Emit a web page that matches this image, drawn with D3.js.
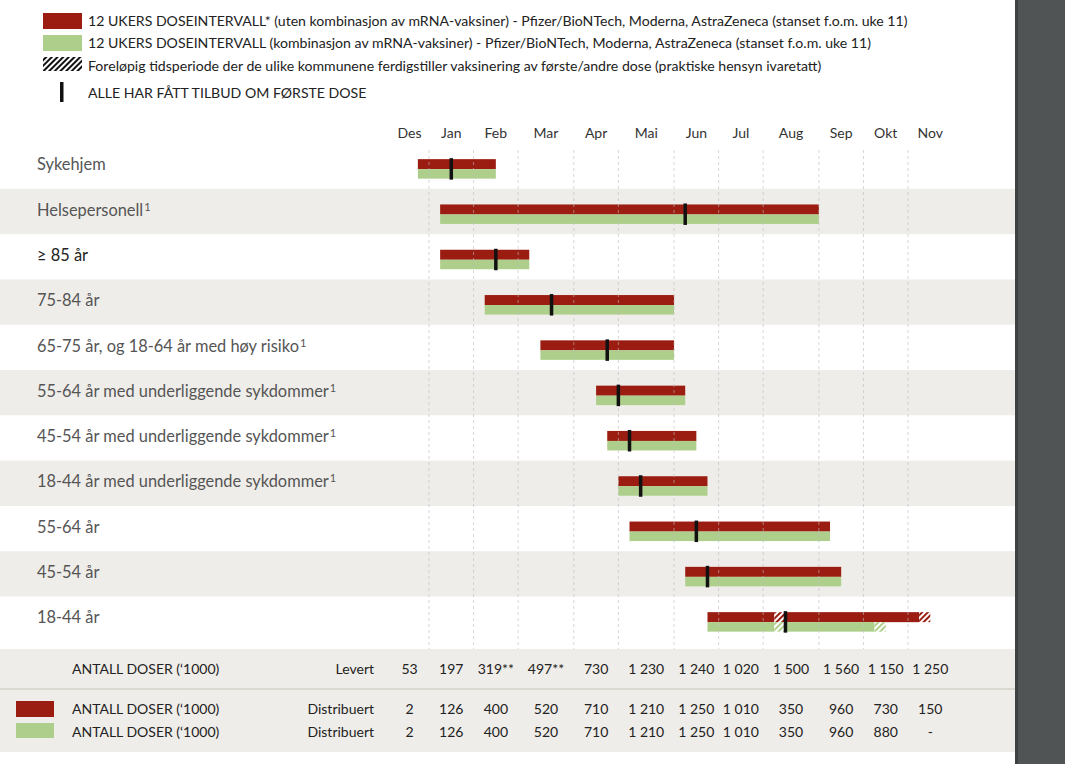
<!DOCTYPE html>
<html><head><meta charset="utf-8">
<script src="https://cdn.jsdelivr.net/npm/d3@7"></script>
<style>
html,body{margin:0;padding:0;background:#fff;}
svg{display:block;font-family:Lato, "Noto Sans", sans-serif;}
</style></head>
<body>
<svg id="chart" width="1065" height="764"></svg>
<script>
// ---- DATA (time unit: weeks from 1 January 2021) ----
const months = ["Des","Jan","Feb","Mar","Apr","Mai","Jun","Jul","Aug","Sep","Okt","Nov"];
const monthStartWeek = [-3.5,0,4,8,13,17,22,26,30,35,39,43];
const monthEndWeek   = [0,4,8,13,17,22,26,30,35,39,43,47];

const rowLabels = ["Sykehjem","Helsepersonell","≥ 85 år","75-84 år",
  "65-75 år, og 18-64 år med høy risiko","55-64 år med underliggende sykdommer",
  "45-54 år med underliggende sykdommer","18-44 år med underliggende sykdommer",
  "55-64 år","45-54 år","18-44 år"];
const rowFootnote = ["","1","","","1","1","1","1","","",""];
// solid segments per row [start, end]
const redBars = [[[-1,6]],[[1,35]],[[1,9]],[[5,22]],[[10,22]],[[15,23]],[[16,24]],[[17,25]],[[18,36]],[[23,37]],[[25,31],[32,44]]];
const greenBars = [[[-1,6]],[[1,35]],[[1,9]],[[5,22]],[[10,22]],[[15,23]],[[16,24]],[[17,25]],[[18,36]],[[23,37]],[[25,31],[32,40]]];
// provisional (hatched) segments: [rowIndex, start, end]
const redHatch = [[10,31,32],[10,44,45]];
const greenHatch = [[10,31,32],[10,40,41]];
// "Alle har fått tilbud om første dose"
const firstDose = [2,23,6,11,16,17,18,19,24,25,32];

const levert    = ["53","197","319**","497**","730","1 230","1 240","1 020","1 500","1 560","1 150","1 250"];
const distRed   = ["2","126","400","520","710","1 210","1 250","1 010","350","960","730","150"];
const distGreen = ["2","126","400","520","710","1 210","1 250","1 010","350","960","880","-"];

const legendItems = [
  "12 UKERS DOSEINTERVALL* (uten kombinasjon av mRNA-vaksiner) - Pfizer/BioNTech, Moderna, AstraZeneca (stanset f.o.m. uke 11)",
  "12 UKERS DOSEINTERVALL (kombinasjon av mRNA-vaksiner) - Pfizer/BioNTech, Moderna, AstraZeneca (stanset f.o.m. uke 11)",
  "Foreløpig tidsperiode der de ulike kommunene ferdigstiller vaksinering av første/andre dose (praktiske hensyn ivaretatt)",
  "ALLE HAR FÅTT TILBUD OM FØRSTE DOSE"];
const tableLabel = "ANTALL DOSER (\u20181000)";

// ---- STYLE ----
const RED = "#9b1d12", GREEN = "#aecf8c", BAND = "#efede9";
const svg = d3.select("#chart");
const W = 1065, H = 764;

const x = d3.scaleLinear().domain([0,43]).range([429,908]);
const rowStep = 45.3, rowTop = 143.5;
const y = d3.scaleBand().domain(d3.range(rowLabels.length))
  .range([rowTop, rowTop + rowStep*rowLabels.length]).padding(0);
const cy = i => y(i) + y.bandwidth()/2;

// patterns
const defs = svg.append("defs");
function hatch(id, color, bg){
  const p = defs.append("pattern").attr("id",id).attr("patternUnits","userSpaceOnUse")
    .attr("width",4).attr("height",4).attr("patternTransform","rotate(45)");
  p.append("rect").attr("width",4).attr("height",4).attr("fill",bg);
  p.append("rect").attr("width",2).attr("height",4).attr("fill",color);
}
hatch("hRed", RED, "#fff");
hatch("hGreen", GREEN, "#fff");
hatch("hBlack", "#111", "#fff");

// background
svg.append("rect").attr("width",W).attr("height",H).attr("fill","#fff");
svg.selectAll("rect.band").data(d3.range(rowLabels.length).filter(i=>i%2===1))
  .join("rect").attr("class","band")
  .attr("x",0).attr("width",1015).attr("y",d=>y(d)).attr("height",y.bandwidth()).attr("fill",BAND);

// table backgrounds
const tTop = 649;
svg.append("rect").attr("x",0).attr("y",tTop).attr("width",1015).attr("height",39).attr("fill",BAND);
svg.append("rect").attr("x",0).attr("y",688).attr("width",1015).attr("height",2).attr("fill","#dbd8d2");
svg.append("rect").attr("x",0).attr("y",690).attr("width",1015).attr("height",62).attr("fill",BAND);

// right dark panel
svg.append("rect").attr("x",1015).attr("y",0).attr("width",50).attr("height",H).attr("fill","#505454");
svg.append("rect").attr("x",1015).attr("y",0).attr("width",3).attr("height",H).attr("fill","#3e4242");

// legend
const lg = svg.append("g");
const legY = [21,43,66,93];
lg.append("rect").attr("x",43).attr("y",13).attr("width",39).attr("height",16).attr("fill",RED);
lg.append("rect").attr("x",43).attr("y",35).attr("width",39).attr("height",16).attr("fill",GREEN);
lg.append("rect").attr("x",43).attr("y",57).attr("width",39).attr("height",14).attr("fill","url(#hBlack)");
lg.append("rect").attr("x",60).attr("y",82).attr("width",3.5).attr("height",20).attr("fill","#111");
lg.selectAll("text").data(legendItems).join("text")
  .attr("x",88).attr("y",(d,i)=>legY[i]).attr("dy","0.35em")
  .attr("font-size",14.1).attr("fill","#222").text(d=>d);

// month labels
const mc = i => x((monthStartWeek[i]+monthEndWeek[i])/2);
svg.selectAll("text.month").data(months).join("text").attr("class","month")
  .attr("x",(d,i)=>mc(i)).attr("y",133).attr("dy","0.35em").attr("text-anchor","middle")
  .attr("font-size",14).attr("fill","#333").text(d=>d);

// row labels
const rl = svg.selectAll("text.row").data(rowLabels).join("text").attr("class","row")
  .attr("x",37).attr("y",(d,i)=>cy(i)-1.5).attr("dy","0.35em")
  .attr("font-size",16.4).attr("fill",(d,i)=>i===2?"#222":"#555");
rl.append("tspan").text(d=>d);
rl.append("tspan").attr("font-size",11).attr("dx",1).attr("dy",-5).text((d,i)=>rowFootnote[i]);

// bars
const redH = 10, greenH = 9.5;
const barTop = i => cy(i) + 3 - redH;
const segs = (arr) => arr.flatMap((s,i)=>s.map(v=>({i, s:v[0], e:v[1]})));
svg.selectAll("rect.red").data(segs(redBars)).join("rect").attr("class","red")
  .attr("x",d=>x(d.s)).attr("width",d=>x(d.e)-x(d.s))
  .attr("y",d=>barTop(d.i)).attr("height",redH).attr("fill",RED);
svg.selectAll("rect.green").data(segs(greenBars)).join("rect").attr("class","green")
  .attr("x",d=>x(d.s)).attr("width",d=>x(d.e)-x(d.s))
  .attr("y",d=>barTop(d.i)+redH).attr("height",greenH).attr("fill",GREEN);
svg.selectAll("rect.rh").data(redHatch).join("rect").attr("class","rh")
  .attr("x",d=>x(d[1])).attr("width",d=>x(d[2])-x(d[1]))
  .attr("y",d=>barTop(d[0])).attr("height",redH).attr("fill","url(#hRed)");
svg.selectAll("rect.gh").data(greenHatch).join("rect").attr("class","gh")
  .attr("x",d=>x(d[1])).attr("width",d=>x(d[2])-x(d[1]))
  .attr("y",d=>barTop(d[0])+redH).attr("height",greenH).attr("fill","url(#hGreen)");

// gridlines (month boundaries)
svg.selectAll("line.grid").data(monthStartWeek.slice(1)).join("line").attr("class","grid")
  .attr("x1",d=>x(d)).attr("x2",d=>x(d)).attr("y1",150).attr("y2",tTop)
  .attr("stroke","#bdbdbd").attr("stroke-opacity",0.6).attr("stroke-dasharray","3,3");

// first dose markers
svg.selectAll("rect.fd").data(firstDose).join("rect").attr("class","fd")
  .attr("x",d=>x(d)-1.75).attr("width",3.5)
  .attr("y",(d,i)=>barTop(i)-1).attr("height",redH+greenH+2).attr("fill","#111");

// table
const tfs = 14;
svg.append("text").attr("x",72).attr("y",669).attr("dy","0.35em").attr("font-size",tfs).attr("fill","#222").text(tableLabel);
svg.append("text").attr("x",374).attr("y",669).attr("dy","0.35em").attr("text-anchor","end").attr("font-size",tfs).attr("fill","#222").text("Levert");
svg.append("rect").attr("x",16).attr("y",701).attr("width",38).attr("height",16).attr("fill",RED);
svg.append("rect").attr("x",16).attr("y",723).attr("width",38).attr("height",15).attr("fill",GREEN);
[709,732].forEach(yy=>{
  svg.append("text").attr("x",72).attr("y",yy).attr("dy","0.35em").attr("font-size",tfs).attr("fill","#222").text(tableLabel);
  svg.append("text").attr("x",374).attr("y",yy).attr("dy","0.35em").attr("text-anchor","end").attr("font-size",tfs).attr("fill","#222").text("Distribuert");
});
function tableRow(vals, yy, cls){
  svg.selectAll("text."+cls).data(vals).join("text").attr("class",cls)
    .attr("x",(d,i)=>mc(i)).attr("y",yy).attr("dy","0.35em").attr("text-anchor","middle")
    .attr("font-size",tfs).attr("fill","#222").text(d=>d);
}
tableRow(levert,669,"lev");
tableRow(distRed,709,"dr");
tableRow(distGreen,732,"dg");
</script>
</body></html>
